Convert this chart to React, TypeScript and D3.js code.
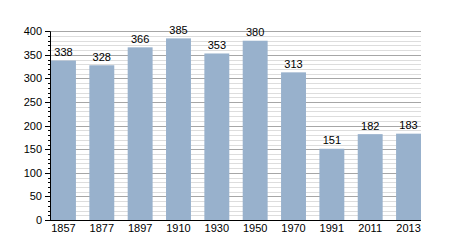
import React from "react";
import * as d3 from "d3";

const years = ["1857", "1877", "1897", "1910", "1930", "1950", "1970", "1991", "2011", "2013"];
const population = [338, 328, 366, 385, 353, 380, 313, 151, 182, 183];
const yTicks = [0, 50, 100, 150, 200, 250, 300, 350, 400];

export default function App() {
  const W = 450, H = 250;
  const x0 = 50, x1 = 421;
  const y = d3.scaleLinear().domain([0, 400]).range([220, 31.3]);
  const x = d3.scaleBand<string>().domain(years).range([51, 421]).paddingInner(0.35).paddingOuter(0);
  const minor = d3.range(0, 401, 10);
  const font = "'Liberation Sans', Arial, sans-serif";
  return (
    <svg width={W} height={H} style={{ position: "absolute", left: 0, top: 0, background: "#fff" }} fontFamily={font}>
      {minor.filter((v) => v % 50 !== 0).map((v) => (
        <g key={"m" + v}>
          <line x1={x0} x2={x1} y1={Math.round(y(v)) + 0.5} y2={Math.round(y(v)) + 0.5} stroke="#dddddd" strokeWidth={1} />
          <line x1={x0 - 2} x2={x0} y1={Math.round(y(v)) + 0.5} y2={Math.round(y(v)) + 0.5} stroke="#000" strokeWidth={1} />
        </g>
      ))}
      {yTicks.map((v) => (
        <g key={"t" + v}>
          {v > 0 && <line x1={x0} x2={x1} y1={Math.round(y(v)) + 0.5} y2={Math.round(y(v)) + 0.5} stroke="#a6a6a6" strokeWidth={1} />}
          <line x1={x0 - 5} x2={x0} y1={Math.round(y(v)) + 0.5} y2={Math.round(y(v)) + 0.5} stroke="#000" strokeWidth={1} />
          <text x={x0 - 8} y={y(v)} dy="0.35em" textAnchor="end" fontSize={11} fill="#000">{v}</text>
        </g>
      ))}
      {years.map((yr, i) => (
        <g key={yr}>
          <rect x={x(yr)} y={y(population[i])} width={x.bandwidth()} height={y(0) - y(population[i])} fill="#98b1cc" />
          <text x={x(yr)! + x.bandwidth() / 2} y={y(population[i]) - 4.5} textAnchor="middle" fontSize={11} fill="#000">{population[i]}</text>
          <text x={x(yr)! + x.bandwidth() / 2} y={232} textAnchor="middle" fontSize={11} fill="#000">{yr}</text>
        </g>
      ))}
      <line x1={x0 + 0.5} x2={x0 + 0.5} y1={y(400)} y2={220.5} stroke="#000" strokeWidth={1} />
      <line x1={x0} x2={x1} y1={220.5} y2={220.5} stroke="#000" strokeWidth={1} />
    </svg>
  );
}
